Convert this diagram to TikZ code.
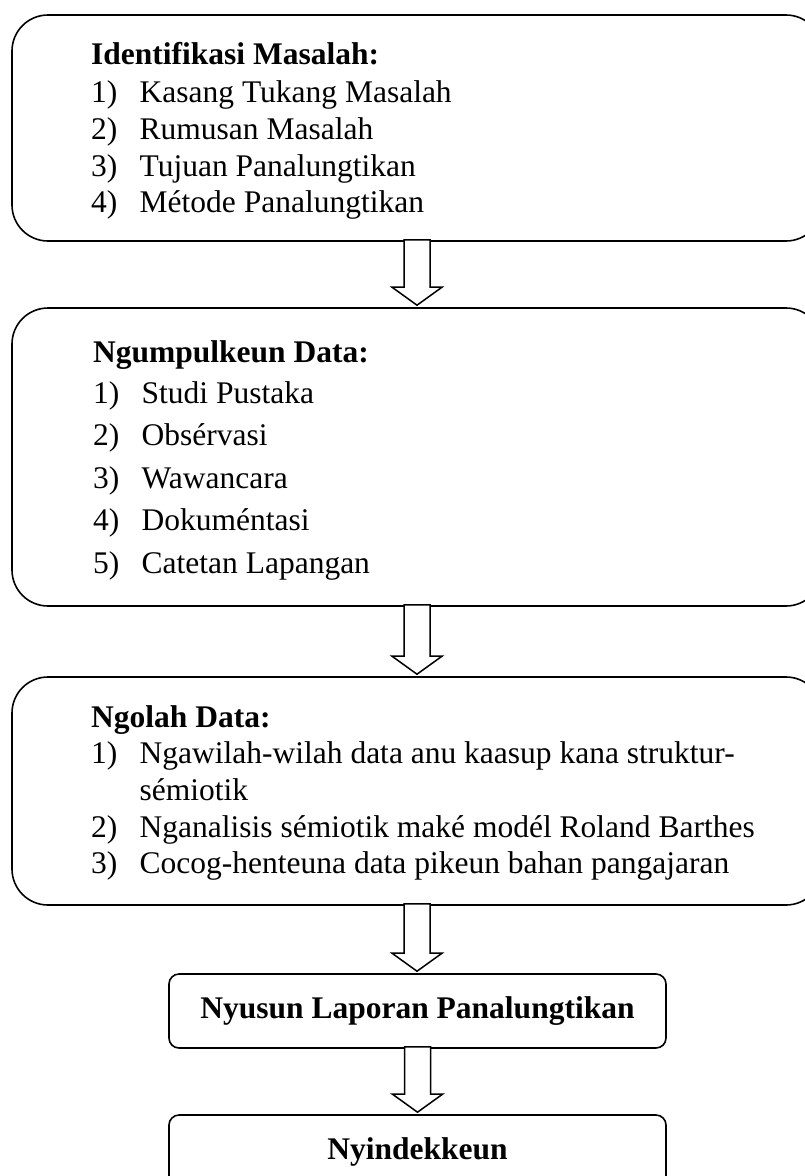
\documentclass[tikz,border=0pt]{standalone}
\usepackage{fontspec}
\setmainfont{Liberation Serif}
\usetikzlibrary{calc}
\newcommand{\nr}[1]{\makebox[48.5pt][l]{#1}}

\begin{document}
\begin{tikzpicture}[x=1pt,y=-1pt]

\tikzstyle{bigbox}=[
	draw,
	line width=1.6pt,
	rounded corners=36pt,
	minimum width=810pt,
	inner sep=0pt
]
\tikzstyle{smallbox}=[
	draw,
	line width=1.6pt,
	rounded corners=10pt,
	minimum width=497pt,
	minimum height=74pt,
	inner sep=0pt,
	font=\bfseries\fontsize{31.5pt}{36pt}\selectfont
]
\tikzstyle{txt}=[
	anchor=base west,
	inner sep=0pt,
	font=\fontsize{31.5pt}{36pt}\selectfont
]
\tikzstyle{hd}=[txt, font=\bfseries\fontsize{31.5pt}{36pt}\selectfont]
\tikzstyle{blockarr}=[draw, fill=white, line width=1.5pt, to path={
	let \p1=(\tikztostart), \p2=(\tikztotarget) in
	(\x1-13pt,\y1+2pt) -- (\x1-13pt,\y2+20pt) -- (\x1-25pt,\y2+20pt)
	-- (\x1,\y2+2pt) -- (\x1+25pt,\y2+20pt) -- (\x1+13pt,\y2+20pt)
	-- (\x1+13pt,\y1+2pt) -- cycle}]

\useasboundingbox (0,0) rectangle (805,1176);
\clip (0,0) rectangle (805,1176);

\node[bigbox, minimum height=226pt] (b1) at (417,128) {};
\node[bigbox, minimum height=298pt] (b2) at (417,457) {};
\node[bigbox, minimum height=228pt] (b3) at (417,791) {};
\node[smallbox] (b4) at (417.5,1011) {Nyusun Laporan Panalungtikan};
\node[smallbox] (b5) at (417.5,1152) {Nyindekkeun};

% identifikasi
\node[hd] (h1) at (91,64) {Identifikasi Masalah:};
\node[txt] (i11) at (91,102) {\nr{1)}Kasang Tukang Masalah};
\node[txt] (i12) at (91,139) {\nr{2)}Rumusan Masalah};
\node[txt] (i13) at (91,176) {\nr{3)}Tujuan Panalungtikan};
\node[txt] (i14) at (91,212) {\nr{4)}Métode Panalungtikan};

% ngumpulkeun
\node[hd] (h2) at (93,362) {Ngumpulkeun Data:};
\node[txt] (i21) at (93,403) {\nr{1)}Studi Pustaka};
\node[txt] (i22) at (93,445) {\nr{2)}Obsérvasi};
\node[txt] (i23) at (93,488) {\nr{3)}Wawancara};
\node[txt] (i24) at (93,530) {\nr{4)}Dokuméntasi};
\node[txt] (i25) at (93,573) {\nr{5)}Catetan Lapangan};

% ngolah
\node[hd] (h3) at (91,727) {Ngolah Data:};
\node[txt] (i31) at (91,763) {\nr{1)}Ngawilah-wilah data anu kaasup kana struktur-};
\node[txt] (i31b) at (139.5,800) {sémiotik};
\node[txt] (i32) at (91,837) {\nr{2)}Nganalisis sémiotik maké modél Roland Barthes};
\node[txt] (i33) at (91,873) {\nr{3)}Cocog-henteuna data pikeun bahan pangajaran};

\draw[blockarr] (b1.south) to (b2.north);
\draw[blockarr] (b2.south) to (b3.north);
\draw[blockarr] (b3.south) to (b4.north);
\draw[blockarr] (b4.south) to (b5.north);

\end{tikzpicture}
\end{document}
